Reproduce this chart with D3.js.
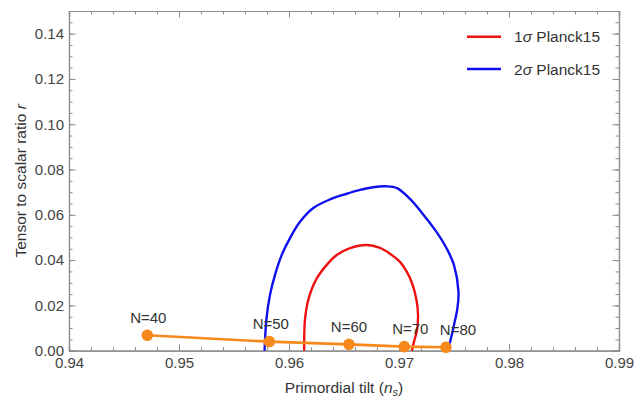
<!DOCTYPE html>
<head>
<style>
body { margin: 0; background: #fff; }
svg { font-family: "Liberation Sans", Arial, sans-serif; }
.frame line, .frame path { stroke: #8c8c8c; }
.frame .domain { stroke: #8c8c8c; stroke-width: 1.2px; }
.tick text { fill: #444; font-size: 15px; }
.lbl { fill: #333; font-size: 15px; }
</style>
<script src="https://d3js.org/d3.v7.min.js"></script>
</head>
<body>
<svg width="644" height="398"></svg>
<script>
// N-folds model predictions
var nLabels = ["N=40", "N=50", "N=60", "N=70", "N=80"];
var nsPred = [0.94712, 0.95821, 0.96545, 0.97048, 0.97427];
var rPred = [0.0068, 0.0040, 0.0028, 0.0018, 0.0015];

// Planck15 contours
var sigma1Ns = [0.96139, 0.96138, 0.96145, 0.96175, 0.96245, 0.96343, 0.96434, 0.96555, 0.96706, 0.96827,
  0.96918, 0.97009, 0.97070, 0.97118, 0.97159, 0.97173, 0.97164, 0.97136, 0.97114, 0.97105];
var sigma1R = [-0.0023, 0.0047, 0.0136, 0.0224, 0.0313, 0.0379, 0.0423, 0.0453, 0.0467, 0.0454,
  0.0428, 0.0392, 0.0349, 0.0299, 0.0224, 0.0158, 0.0092, 0.0039, -0.0006, -0.0023];
var sigma2Ns = [0.95777, 0.95782, 0.95796, 0.95827, 0.95873, 0.95934, 0.96009, 0.96100, 0.96221, 0.96373,
  0.96525, 0.96646, 0.96764, 0.96882, 0.96982, 0.97100, 0.97218, 0.97336, 0.97436, 0.97500,
  0.97541, 0.97530, 0.97500, 0.97473, 0.97446, 0.97432];
var sigma2R = [-0.0023, 0.0047, 0.0145, 0.0246, 0.0335, 0.0423, 0.0497, 0.0569, 0.0630, 0.0668,
  0.0693, 0.0710, 0.0722, 0.0726, 0.0718, 0.0670, 0.0603, 0.0528, 0.0449, 0.0378,
  0.0260, 0.0184, 0.0114, 0.0056, 0.0003, -0.0023];

var xTicks = [0.94, 0.95, 0.96, 0.97, 0.98, 0.99];
var yTicks = [0.00, 0.02, 0.04, 0.06, 0.08, 0.10, 0.12, 0.14];

var svg = d3.select("svg"),
    margin = {top: 11, right: 25, bottom: 47.3, left: 69},
    width = +svg.attr("width") - margin.left - margin.right,
    height = +svg.attr("height") - margin.top - margin.bottom,
    g = svg.append("g").attr("transform", "translate(" + margin.left + "," + margin.top + ")");

var x = d3.scaleLinear().domain([0.94, 0.99]).range([0, width]);
var y = d3.scaleLinear().domain([0, 0.15]).range([height, 0]);

var xMinor = d3.range(0.94, 0.99001, 0.002).map(function(d) { return +d.toFixed(3); });
var yMinor = d3.range(0, 0.15001, 0.005).map(function(d) { return +d.toFixed(3); });

function frameAxis(axis, ticks, size, labels, tx, pad) {
  return g.append("g").attr("class", "frame").attr("transform", tx || null)
    .call(axis.tickValues(ticks).tickSize(-size).tickPadding(pad || 5)
      .tickFormat(labels ? d3.format(".2f") : ""));
}

// minor ticks
frameAxis(d3.axisBottom(x), xMinor, 3.5, false, "translate(0," + height + ")");
frameAxis(d3.axisTop(x), xMinor, 3.5, false);
frameAxis(d3.axisLeft(y), yMinor, 3.5, false);
frameAxis(d3.axisRight(y), yMinor, 3.5, false, "translate(" + width + ",0)");
// major ticks
frameAxis(d3.axisBottom(x), xTicks, 6.5, true, "translate(0," + height + ")", 6.5);
frameAxis(d3.axisTop(x), xTicks, 6.5, false);
frameAxis(d3.axisLeft(y), yTicks, 6.5, true);
frameAxis(d3.axisRight(y), yTicks, 6.5, false, "translate(" + width + ",0)");

svg.append("defs").append("clipPath").attr("id", "plot")
  .append("rect").attr("width", width).attr("height", height);

var plot = g.append("g").attr("clip-path", "url(#plot)");

var line = d3.line()
    .x(function(d) { return x(d[0]); })
    .y(function(d) { return y(d[1]); })
    .curve(d3.curveCatmullRom.alpha(0.5));

plot.append("path")
    .datum(d3.zip(sigma2Ns, sigma2R))
    .attr("fill", "none")
    .attr("stroke", "#1010ee")
    .attr("stroke-width", 2.4)
    .attr("d", line);

plot.append("path")
    .datum(d3.zip(sigma1Ns, sigma1R))
    .attr("fill", "none")
    .attr("stroke", "#ee1111")
    .attr("stroke-width", 2.4)
    .attr("d", line);

var pred = d3.zip(nsPred, rPred);
var orange = "#f7891c";

g.append("path")
    .datum(pred)
    .attr("fill", "none")
    .attr("stroke", orange)
    .attr("stroke-width", 2.6)
    .attr("d", d3.line().x(function(d) { return x(d[0]); }).y(function(d) { return y(d[1]); }));

g.selectAll(".dot")
  .data(pred)
  .enter().append("circle")
    .attr("class", "dot")
    .attr("cx", function(d) { return x(d[0]); })
    .attr("cy", function(d) { return y(d[1]); })
    .attr("r", 5.8)
    .attr("fill", orange);

var labelDx = [1, 1.5, 0, 6, 12];
g.selectAll(".nlab")
  .data(nLabels)
  .enter().append("text")
    .attr("class", "lbl")
    .attr("text-anchor", "middle")
    .attr("x", function(d, i) { return x(nsPred[i]) + labelDx[i]; })
    .attr("y", function(d, i) { return y(rPred[i]) - 12.8; })
    .text(function(d) { return d; });

// axis titles
var xt = svg.append("text")
    .attr("class", "lbl")
    .attr("text-anchor", "middle")
    .style("font-size", "15.5px")
    .attr("x", margin.left + width / 2)
    .attr("y", 392.5);
xt.append("tspan").text("Primordial tilt (");
xt.append("tspan").attr("font-style", "italic").text("n");
xt.append("tspan").attr("font-style", "italic").attr("font-size", "11px").attr("dy", 3).text("s");
xt.append("tspan").attr("dy", -3).text(")");

var yt = svg.append("text")
    .attr("class", "lbl")
    .attr("text-anchor", "middle")
    .style("font-size", "15.5px")
    .attr("transform", "translate(25.5," + (margin.top + height / 2) + ") rotate(-90)");
yt.append("tspan").text("Tensor to scalar ratio ");
yt.append("tspan").attr("font-style", "italic").text("r");

// legend
var legKeys = ["1", "2"];
var legColors = ["#ee1111", "#1010ee"];
var leg = svg.append("g").selectAll("g")
  .data(legKeys)
  .enter().append("g")
    .attr("transform", function(d, i) { return "translate(467," + (36.7 + i * 32.3) + ")"; });

leg.append("line")
    .attr("x2", 34)
    .attr("stroke", function(d, i) { return legColors[i]; })
    .attr("stroke-width", 2.4);

var lt = leg.append("text")
    .attr("class", "lbl")
    .attr("x", 47)
    .attr("dy", "0.36em")
    .style("font-size", "15.5px");
lt.append("tspan").text(function(d) { return d; });
lt.append("tspan").attr("font-style", "italic").text("\u03c3");
lt.append("tspan").text(" Planck15");
</script>
</body>
